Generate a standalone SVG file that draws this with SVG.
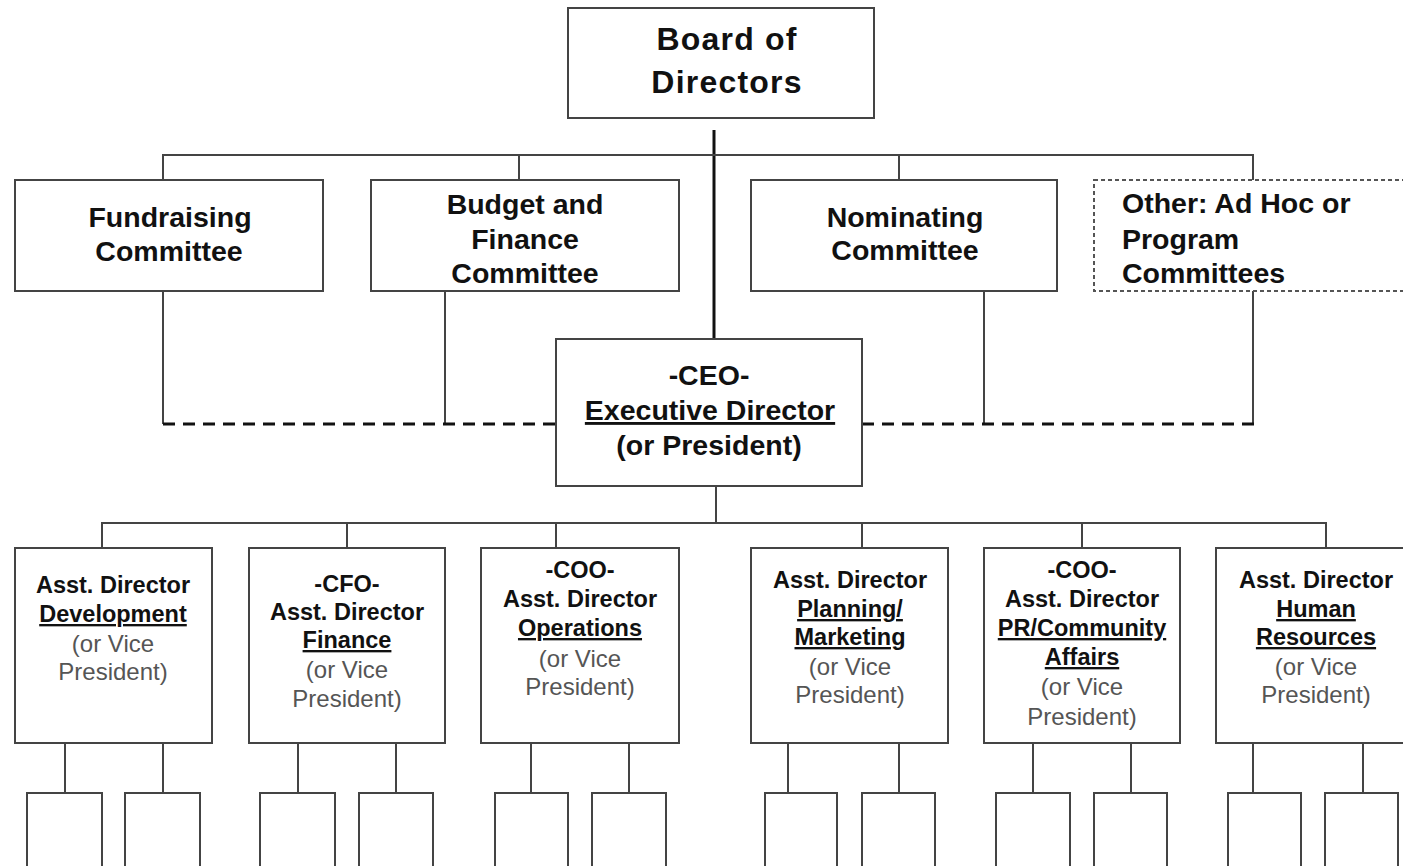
<svg xmlns="http://www.w3.org/2000/svg" width="1403" height="866" viewBox="0 0 1403 866">
<style>
.box{fill:#fff;stroke:#444;stroke-width:2}
.dbox{fill:#fff;stroke:#555;stroke-width:2;stroke-dasharray:4 3}
.ln{fill:none;stroke:#444;stroke-width:2}
.thick{fill:none;stroke:#111;stroke-width:3}
.dash{fill:none;stroke:#111;stroke-width:3;stroke-dasharray:12 8}
text{font-family:"Liberation Sans",Arial,sans-serif;fill:#111}
.b{font-weight:bold}
.t1{font-size:32px;letter-spacing:1.2px}
.t2{font-size:28.5px}
.t3{font-size:28.5px}
.t4{font-size:23.5px}
.g{font-size:24px;fill:#555}
.u{text-decoration:underline}
.m{text-anchor:middle}
</style>
<rect width="1403" height="866" fill="#fff"/>
<g id="connectors">
<line class="thick" x1="714" y1="130" x2="714" y2="339"/>
<polyline class="ln" points="163,180 163,155 1253,155 1253,180"/>
<line class="ln" x1="519" y1="155" x2="519" y2="180"/>
<line class="ln" x1="899" y1="155" x2="899" y2="180"/>
<line class="ln" x1="163" y1="291" x2="163" y2="424"/>
<line class="ln" x1="445" y1="291" x2="445" y2="424"/>
<line class="ln" x1="984" y1="291" x2="984" y2="424"/>
<line class="ln" x1="1253" y1="291" x2="1253" y2="424"/>
<line class="dash" x1="163" y1="424" x2="556" y2="424"/>
<line class="dash" x1="862" y1="424" x2="1255" y2="424"/>
<line class="ln" x1="716" y1="486" x2="716" y2="523"/>
<polyline class="ln" points="102,548 102,523 1326,523 1326,548"/>
<line class="ln" x1="347" y1="523" x2="347" y2="548"/>
<line class="ln" x1="556" y1="523" x2="556" y2="548"/>
<line class="ln" x1="862" y1="523" x2="862" y2="548"/>
<line class="ln" x1="1082" y1="523" x2="1082" y2="548"/>
<line class="ln" x1="65" y1="743" x2="65" y2="793"/>
<line class="ln" x1="163" y1="743" x2="163" y2="793"/>
<line class="ln" x1="298" y1="743" x2="298" y2="793"/>
<line class="ln" x1="396" y1="743" x2="396" y2="793"/>
<line class="ln" x1="531" y1="743" x2="531" y2="793"/>
<line class="ln" x1="629" y1="743" x2="629" y2="793"/>
<line class="ln" x1="788" y1="743" x2="788" y2="793"/>
<line class="ln" x1="899" y1="743" x2="899" y2="793"/>
<line class="ln" x1="1033" y1="743" x2="1033" y2="793"/>
<line class="ln" x1="1131" y1="743" x2="1131" y2="793"/>
<line class="ln" x1="1253" y1="743" x2="1253" y2="793"/>
<line class="ln" x1="1363" y1="743" x2="1363" y2="793"/>
</g>
<g id="board">
<rect class="box" x="568" y="8" width="306" height="110"/>
<text class="b t1 m" x="727" y="50">Board of</text>
<text class="b t1 m" x="727" y="93">Directors</text>
</g>
<g id="fundraising">
<rect class="box" x="15" y="180" width="308" height="111"/>
<text class="b t2 m" x="170" y="227">Fundraising</text>
<text class="b t2 m" x="169" y="261">Committee</text>
</g>
<g id="budget">
<rect class="box" x="371" y="180" width="308" height="111"/>
<text class="b t2 m" x="525" y="214">Budget and</text>
<text class="b t2 m" x="525" y="249">Finance</text>
<text class="b t2 m" x="525" y="283">Committee</text>
</g>
<g id="nominating">
<rect class="box" x="751" y="180" width="306" height="111"/>
<text class="b t2 m" x="905" y="227">Nominating</text>
<text class="b t2 m" x="905" y="260">Committee</text>
</g>
<g id="other">
<rect class="dbox" x="1094" y="180" width="320" height="111"/>
<text class="b t2" x="1122" y="213">Other: Ad Hoc or</text>
<text class="b t2" x="1122" y="249">Program</text>
<text class="b t2" x="1122" y="283">Committees</text>
</g>
<g id="ceo">
<rect class="box" x="556" y="339" width="306" height="147"/>
<text class="b t3 m" x="709" y="385">-CEO-</text>
<text class="b t3 m u" x="710" y="420">Executive Director</text>
<text class="b t3 m" x="709" y="455">(or President)</text>
</g>
<g id="dev">
<rect class="box" x="15" y="548" width="197" height="195"/>
<text class="b t4 m" x="113" y="593">Asst. Director</text>
<text class="b t4 m u" x="113" y="622">Development</text>
<text class="g m" x="113" y="652">(or Vice</text>
<text class="g m" x="113" y="680">President)</text>
</g>
<g id="cfo">
<rect class="box" x="249" y="548" width="196" height="195"/>
<text class="b t4 m" x="347" y="592">-CFO-</text>
<text class="b t4 m" x="347" y="620">Asst. Director</text>
<text class="b t4 m u" x="347" y="648">Finance</text>
<text class="g m" x="347" y="678">(or Vice</text>
<text class="g m" x="347" y="707">President)</text>
</g>
<g id="coo-ops">
<rect class="box" x="481" y="548" width="198" height="195"/>
<text class="b t4 m" x="580" y="578">-COO-</text>
<text class="b t4 m" x="580" y="607">Asst. Director</text>
<text class="b t4 m u" x="580" y="636">Operations</text>
<text class="g m" x="580" y="667">(or Vice</text>
<text class="g m" x="580" y="695">President)</text>
</g>
<g id="planning">
<rect class="box" x="751" y="548" width="197" height="195"/>
<text class="b t4 m" x="850" y="588">Asst. Director</text>
<text class="b t4 m u" x="850" y="617">Planning/</text>
<text class="b t4 m u" x="850" y="645">Marketing</text>
<text class="g m" x="850" y="675">(or Vice</text>
<text class="g m" x="850" y="703">President)</text>
</g>
<g id="coo-pr">
<rect class="box" x="984" y="548" width="196" height="195"/>
<text class="b t4 m" x="1082" y="578">-COO-</text>
<text class="b t4 m" x="1082" y="607">Asst. Director</text>
<text class="b t4 m u" x="1082" y="636">PR/Community</text>
<text class="b t4 m u" x="1082" y="665">Affairs</text>
<text class="g m" x="1082" y="695">(or Vice</text>
<text class="g m" x="1082" y="725">President)</text>
</g>
<g id="hr">
<rect class="box" x="1216" y="548" width="197" height="195"/>
<text class="b t4 m" x="1316" y="588">Asst. Director</text>
<text class="b t4 m u" x="1316" y="617">Human</text>
<text class="b t4 m u" x="1316" y="645">Resources</text>
<text class="g m" x="1316" y="675">(or Vice</text>
<text class="g m" x="1316" y="703">President)</text>
</g>
<g id="subs">
<rect class="box" x="27" y="793" width="75" height="90"/>
<rect class="box" x="125" y="793" width="75" height="90"/>
<rect class="box" x="260" y="793" width="75" height="90"/>
<rect class="box" x="359" y="793" width="74" height="90"/>
<rect class="box" x="495" y="793" width="73" height="90"/>
<rect class="box" x="592" y="793" width="74" height="90"/>
<rect class="box" x="765" y="793" width="72" height="90"/>
<rect class="box" x="862" y="793" width="73" height="90"/>
<rect class="box" x="996" y="793" width="74" height="90"/>
<rect class="box" x="1094" y="793" width="73" height="90"/>
<rect class="box" x="1228" y="793" width="73" height="90"/>
<rect class="box" x="1325" y="793" width="73" height="90"/>
</g>
</svg>
